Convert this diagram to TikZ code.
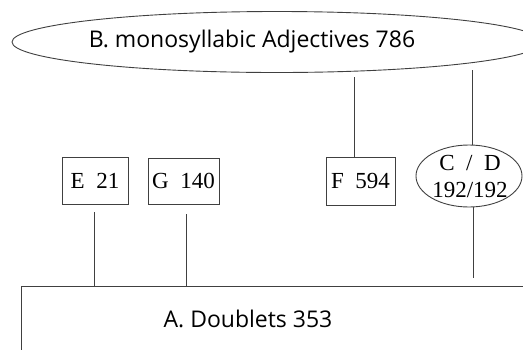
\documentclass[tikz,border=0pt]{standalone}
\usepackage{fontspec}
\setmainfont{Liberation Serif}
\newfontfamily\labelsans{Open Sans}
\usetikzlibrary{shapes.geometric}
\begin{document}
\begin{tikzpicture}[x=1pt,y=-1pt,
  ln/.style={draw=black!75,line width=0.9pt},
  bigtext/.style={font=\labelsans\fontsize{23}{26}\selectfont},
  boxtext/.style={font=\fontsize{23}{25}\selectfont}]
\useasboundingbox (0,0) rectangle (523,349);
\begin{scope}
\clip (0,0) rectangle (523,349);
% B ellipse
\node[ln,ellipse,minimum width=530,minimum height=61,inner sep=0] (B) at (277,42) {};
\node[bigtext] (Bt) at (252,42) {B. monosyllabic Adjectives 786};
% A box
\node[ln,rectangle,minimum width=560,minimum height=120,anchor=north west,inner sep=0] (A) at (21,286) {};
\node[bigtext] (At) at (248,319) {A. Doublets 353};
% small boxes
\node[ln,rectangle,minimum width=66,minimum height=47,inner sep=0,boxtext] (E) at (95,181) {E\,\,\,21};
\node[ln,rectangle,minimum width=71,minimum height=46,inner sep=0,boxtext] (G) at (183.5,181) {G\,\,\,140};
\node[ln,rectangle,minimum width=69,minimum height=48,inner sep=0,boxtext] (F) at (360.5,181) {F\,\,\,594};
\node[ln,ellipse,minimum width=106,minimum height=62,inner sep=0] (CD) at (469,176) {};
\node[boxtext,align=center,inner sep=0] (CDt) at (470,176) {C\,\,\,/\,\,\,D\\[2pt]192/192};
% connectors
\coordinate (b1) at (354,77);
\coordinate (b2) at (472,70);
\draw[ln] (b1) -- (F.north -| b1);
\draw[ln] (b2) -- (CD.north -| b2);
\coordinate (e1) at (94,212);
\coordinate (g1) at (186,214);
\coordinate (c1) at (473,278);
\draw[ln] (e1) -- (A.north -| e1);
\draw[ln] (g1) -- (A.north -| g1);
\draw[ln] (CD.south -| c1) -- (c1);
\end{scope}
\end{tikzpicture}
\end{document}
